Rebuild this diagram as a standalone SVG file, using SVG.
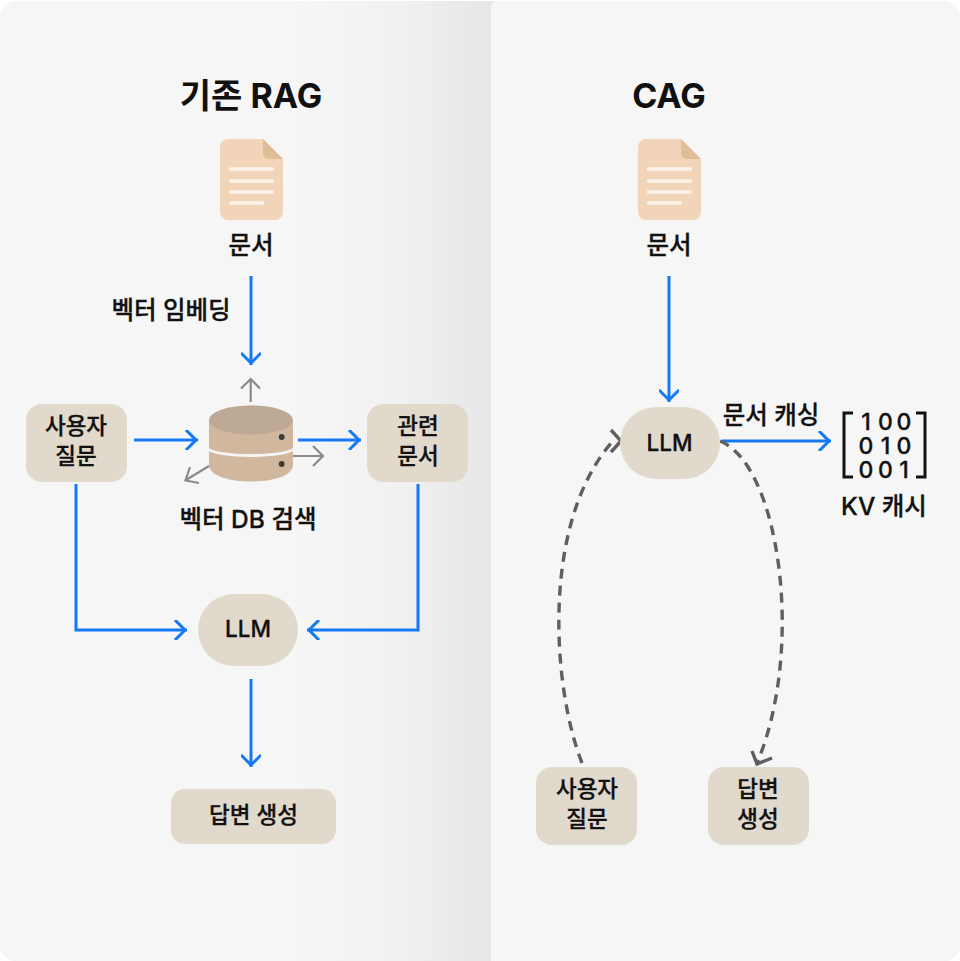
<svg xmlns="http://www.w3.org/2000/svg" width="960" height="961" viewBox="0 0 960 961">
<style>
text{font-family:"Inter","Noto Sans CJK KR",sans-serif;font-weight:500;fill:#111;stroke:#111;stroke-width:.3px;text-anchor:middle}
.t{font-size:22.500px}
.l{font-size:24.500px}
.h{font-size:34px;font-weight:700;stroke:none}
.m{font-size:23px}
.box{fill:#e2d9cd}
.blue{fill:none;stroke:#1479f5;stroke-width:3}
.dash{fill:none;stroke:#5f5f5f;stroke-width:3.400;stroke-dasharray:10 7}
.dh{fill:none;stroke:#5f5f5f;stroke-width:3.400}
.gr{fill:none;stroke:#8a8a8a;stroke-width:2.200}
.doc{fill:#f2d5b8}
.fold{fill:#dfbd97}
.ln{stroke:#fbf3ea;stroke-width:3.500;stroke-linecap:round}
</style>
<defs>
<linearGradient id="sh" x1="0" x2="1" y1="0" y2="0"><stop offset="0" stop-color="#f6f6f6"/><stop offset="0.6" stop-color="#f6f6f6"/><stop offset="0.8" stop-color="#f1f1f1"/><stop offset="1" stop-color="#e6e6e6"/></linearGradient>
<marker id="a" viewBox="0 0 20 20" refX="19" refY="10" markerWidth="20" markerHeight="20" markerUnits="userSpaceOnUse" orient="auto"><path d="M7 0L17 10L7 20" fill="none" stroke="#1479f5" stroke-width="3"/></marker>
<g id="docicon">
<path class="doc" d="M8 0H43L63 20V73a8 8 0 0 1-8 8H8a8 8 0 0 1-8-8V8a8 8 0 0 1 8-8Z"/>
<path class="fold" d="M43 0L63 20H49a6 6 0 0 1-6-6Z"/>
<path class="ln" d="M10.500 30H52.500M10.500 42H52.500M10.500 53H52.500M10.500 64H42.500"/>
</g>
</defs>
<rect width="960" height="961" fill="#fff"/>
<rect x="0" y="1" width="960" height="960" rx="16" fill="#f6f6f6"/>
<path d="M16 1H495V961H16A16 16 0 0 1 0 945V17A16 16 0 0 1 16 1Z" fill="url(#sh)"/>
<path d="M497 1H944a16 16 0 0 1 16 16V945a16 16 0 0 1-16 16H491V7a6 6 0 0 1 6-6Z" fill="#f6f6f6"/>

<text class="h" x="251" y="108">기존 RAG</text>
<text class="h" x="669" y="108">CAG</text>

<g id="connectors">
<path class="blue" marker-end="url(#a)" d="M251 276V365"/>
<path class="blue" marker-end="url(#a)" d="M134 440H198"/>
<path class="blue" marker-end="url(#a)" d="M298 440H361"/>
<path class="blue" marker-end="url(#a)" d="M76 484V630H187"/>
<path class="blue" marker-end="url(#a)" d="M418 484V630H307"/>
<path class="blue" marker-end="url(#a)" d="M251 679V767"/>
<path class="blue" marker-end="url(#a)" d="M669 276V402"/>
<path class="blue" marker-end="url(#a)" d="M722 441H831"/>
<path class="dash" d="M582 763C553 690 540 525 612 442"/>
<path class="dh" d="M611 430L621 441L611 452"/>
<path class="dash" d="M720 441C780 465 805 650 757 763"/>
<path class="dh" d="M752 751L757 764L772 758"/>
<path class="gr" d="M250.700 402V379M241 388.500L250.700 379L260 388.500"/>
<path class="gr" d="M209 466L186 480M190 467L185.500 480.500L199 483"/>
<path class="gr" d="M293 456H322M313 446L323 456L313 466"/>
</g>

<g id="doc-rag"><use href="#docicon" x="220" y="139"/><text class="l" x="251" y="254">문서</text></g>
<g id="doc-cag"><use href="#docicon" x="638" y="139"/><text class="l" x="669" y="254">문서</text></g>
<text class="l" x="171" y="319">벡터 임베딩</text>

<g id="query-rag"><rect class="box" x="26" y="404" width="101" height="78" rx="16"/><text class="t" x="76" y="434">사용자</text><text class="t" x="76" y="464">질문</text></g>

<g id="vector-db">
<path d="M209 420V465C209 487 293 487 293 465V420Z" fill="#d0b79e"/>
<path d="M207 448C214 458 288 458 295 448" fill="none" stroke="#f6f6f6" stroke-width="3"/>
<ellipse cx="251" cy="420" rx="42" ry="14.500" fill="#bda996"/>
<circle cx="281.700" cy="437" r="2.900" fill="#3d3a36"/>
<circle cx="281.700" cy="464" r="2.900" fill="#3d3a36"/>
<text class="l" x="248" y="528">벡터 DB 검색</text>
</g>

<g id="related"><rect class="box" x="367" y="404" width="101" height="78" rx="16"/><text class="t" x="418" y="434">관련</text><text class="t" x="418" y="464">문서</text></g>
<g id="llm-rag"><rect class="box" x="198" y="594" width="100" height="72" rx="36"/><text class="t" x="248" y="637">LLM</text></g>
<g id="answer-rag"><rect class="box" x="171" y="789" width="165" height="55" rx="14"/><text class="t" x="253.500" y="823">답변 생성</text></g>

<g id="llm-cag"><rect class="box" x="620" y="407" width="100" height="72" rx="36"/><text class="t" x="669.500" y="451">LLM</text></g>
<text class="l" x="771" y="424">문서 캐싱</text>
<g id="kv-cache">
<path d="M853 413H844V477H853M916 413H925V477H916" fill="none" stroke="#111" stroke-width="3"/>
<text class="m" x="866 885.500 904" y="430">100</text>
<text class="m" x="866 885.500 904" y="454">010</text>
<text class="m" x="866 885.500 904" y="478">001</text>
<text class="l" x="884" y="515">KV 캐시</text>
</g>
<g id="query-cag"><rect class="box" x="536" y="767" width="101" height="78" rx="16"/><text class="t" x="587" y="797">사용자</text><text class="t" x="587" y="827">질문</text></g>
<g id="answer-cag"><rect class="box" x="708" y="767" width="101" height="78" rx="16"/><text class="t" x="758" y="797">답변</text><text class="t" x="758" y="827">생성</text></g>
</svg>
